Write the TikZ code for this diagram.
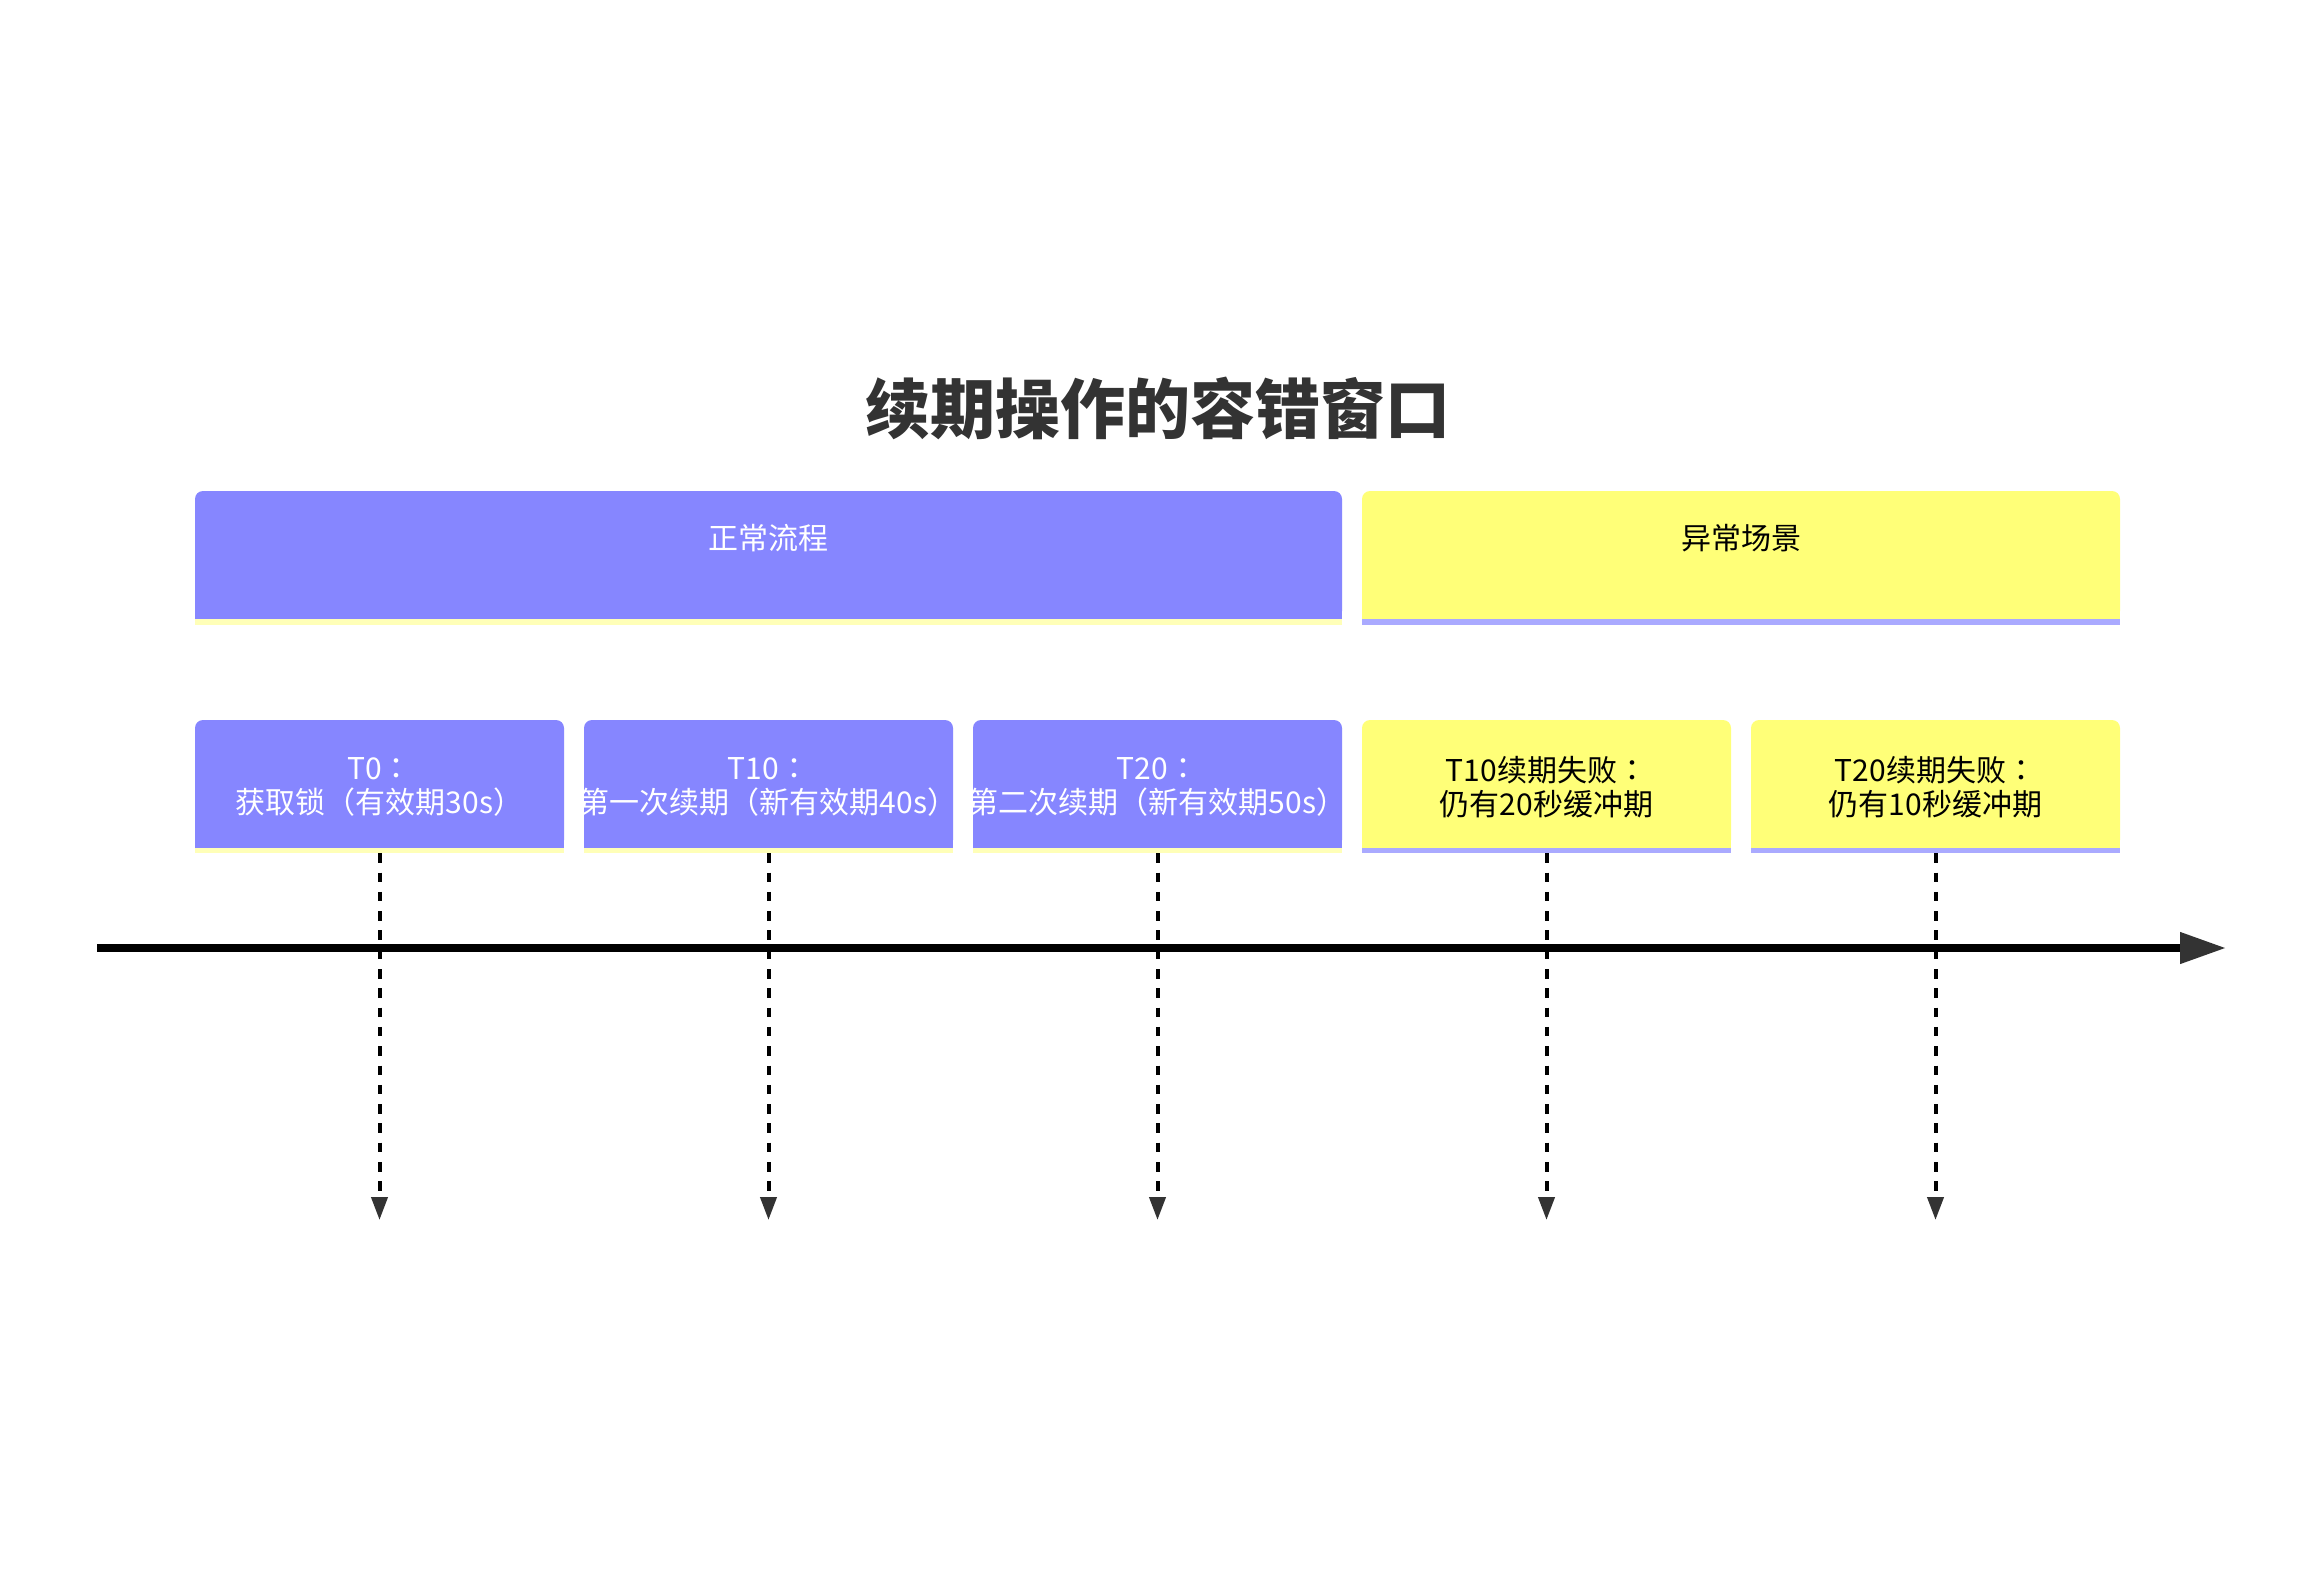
\documentclass[tikz,border=0pt]{standalone}
\usepackage{fontspec}
\setmainfont{Noto Sans CJK SC}
\newfontfamily\jpfont{Noto Sans CJK JP}
\newcommand{\qcolon}{{\jpfont ：}}
\usetikzlibrary{arrows.meta}
\definecolor{pfill}{HTML}{8686FF}
\definecolor{yfill}{HTML}{FFFF78}
\definecolor{pedge}{HTML}{FFFFB8}
\definecolor{yedge}{HTML}{AAAAFF}
\definecolor{darkgray}{HTML}{333333}
\tikzset{
  boxbase/.style={rectangle, inner sep=0pt, minimum height=128pt, rounded corners=8pt},
  pbox/.style={boxbase, fill=pfill},
  ybox/.style={boxbase, fill=yfill},
  tasktext/.style={inner sep=0pt, align=center, font=\fontsize{30}{34}\selectfont},
  sectext/.style={inner sep=0pt, font=\fontsize{30}{34}\selectfont},
  dashline/.style={line width=4pt, black, dash pattern=on 9.5pt off 9.8pt, -{Triangle[length=23pt,width=16pt,color=darkgray]}},
  axisline/.style={line width=7.5pt, black, -{Triangle[length=46pt,width=30pt,color=darkgray]}},
}
\begin{document}
\begin{tikzpicture}[x=1pt,y=-1pt]
\fill[white] (0,0) rectangle (2316,1588);
\useasboundingbox (0,0) rectangle (2316,1588);

% title
\node[inner sep=0pt, text=darkgray, font=\fontsize{65}{70}\selectfont\bfseries] (title) at (1158,408) {续期操作的容错窗口};

% section boxes
\node[pbox, minimum width=1147pt] (s1) at (768.5,555) {};
\node[ybox, minimum width=758pt] (s2) at (1741,555) {};
\fill[pfill] ([yshift=20pt]s1.south west) rectangle (s1.south east);
\fill[yfill] ([yshift=20pt]s2.south west) rectangle (s2.south east);
\fill[pedge] (s1.south west) rectangle ([yshift=-6pt]s1.south east);
\fill[yedge] (s2.south west) rectangle ([yshift=-6pt]s2.south east);
\node[sectext, text=white] (s1t) at (768.5,538) {正常流程};
\node[sectext, text=black] (s2t) at (1741,538) {异常场景};

% task boxes
\node[pbox, minimum width=369pt] (b1) at (379.5,784) {};
\node[pbox, minimum width=369pt] (b2) at (768.5,784) {};
\node[pbox, minimum width=369pt] (b3) at (1157.5,784) {};
\node[ybox, minimum width=369pt] (b4) at (1546.5,784) {};
\node[ybox, minimum width=369pt] (b5) at (1935.5,784) {};
\foreach \b in {b1,b2,b3}{
  \fill[pfill] ([yshift=20pt]\b.south west) rectangle (\b.south east);
  \fill[pedge] (\b.south west) rectangle ([yshift=-5pt]\b.south east);
}
\foreach \b in {b4,b5}{
  \fill[yfill] ([yshift=20pt]\b.south west) rectangle (\b.south east);
  \fill[yedge] (\b.south west) rectangle ([yshift=-5pt]\b.south east);
}
\node[tasktext, text=white] (b1t) at (379.5,787) {T0\qcolon\\获取锁（有效期30s）};
\node[tasktext, text=white] (b2t) at (768.5,787) {T10\qcolon\\第一次续期（新有效期40s）};
\node[tasktext, text=white] (b3t) at (1157.5,787) {T20\qcolon\\第二次续期（新有效期50s）};
\node[tasktext, text=black] (b4t) at (1546.5,787) {T10续期失败\qcolon\\仍有20秒缓冲期};
\node[tasktext, text=black] (b5t) at (1935.5,787) {T20续期失败\qcolon\\仍有10秒缓冲期};

% axis
\coordinate (axL) at (97,948);
\coordinate (axR) at (2226,948);
\draw[axisline] (axL) -- (axR);

% dashed connectors
\foreach \b/\x in {b1/379.5,b2/768.5,b3/1157.5,b4/1546.5,b5/1935.5}{
  \coordinate (\b end) at (\x,1220);
  \draw[dashline] ([yshift=-5pt]\b.south) -- (\b end);
}
\end{tikzpicture}
\end{document}
